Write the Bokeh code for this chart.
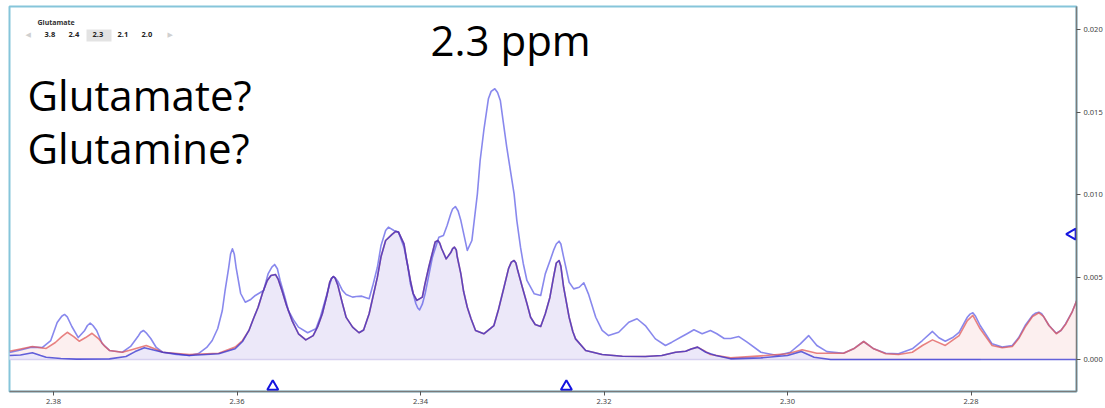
import numpy as np
from bokeh.plotting import figure
from bokeh.models import Range1d, FixedTicker, PrintfTickFormatter, Label, BoxAnnotation
from bokeh.embed import file_html
from bokeh.resources import INLINE

# ---- data ----
spectrum_ppm = [2.3848,2.3836,2.3824,2.3812,2.3803,2.3796,2.3791,2.3788,2.3785,2.3780,2.3773,2.3766,2.3763,2.3760,2.3757,2.3753,2.3747,2.3739,2.3725,2.3716,2.3708,2.3705,2.3702,2.3699,2.3694,2.3688,2.3681,2.3666,2.3652,2.3642,2.3633,2.3627,2.3621,2.3616,2.3613,2.3609,2.3607,2.3605,2.3603,2.3601,2.3596,2.3591,2.3585,2.3580,2.3571,2.3566,2.3562,2.3559,2.3556,2.3553,2.3548,2.3544,2.3538,2.3533,2.3523,2.3514,2.3509,2.3504,2.3499,2.3497,2.3495,2.3493,2.3490,2.3485,2.3481,2.3474,2.3470,2.3464,2.3456,2.3452,2.3447,2.3443,2.3438,2.3435,2.3429,2.3424,2.3418,2.3414,2.3411,2.3405,2.3403,2.3401,2.3398,2.3395,2.3391,2.3387,2.3380,2.3375,2.3371,2.3367,2.3365,2.3362,2.3359,2.3356,2.3349,2.3344,2.3338,2.3335,2.3331,2.3326,2.3323,2.3319,2.3316,2.3313,2.3310,2.3306,2.3302,2.3298,2.3295,2.3291,2.3288,2.3284,2.3276,2.3269,2.3264,2.3258,2.3255,2.3252,2.3249,2.3247,2.3244,2.3238,2.3233,2.3227,2.3222,2.3217,2.3209,2.3202,2.3195,2.3184,2.3173,2.3164,2.3155,2.3144,2.3133,2.3126,2.3115,2.3109,2.3102,2.3093,2.3084,2.3077,2.3069,2.3062,2.3053,2.3044,2.3029,2.3011,2.2997,2.2986,2.2977,2.2968,2.2957,2.2939,2.2928,2.2917,2.2906,2.2893,2.2879,2.2864,2.2853,2.2842,2.2835,2.2828,2.2820,2.2813,2.2804,2.2801,2.2798,2.2795,2.2790,2.2777,2.2766,2.2755,2.2748,2.2741,2.2733,2.2730,2.2726,2.2723,2.2721,2.2715,2.2707,2.2702,2.2697,2.2690,2.2684]
spectrum_int = [0.00042,0.00058,0.00075,0.00073,0.00115,0.00224,0.00262,0.00273,0.00258,0.00200,0.00133,0.00176,0.00206,0.00220,0.00206,0.00176,0.00097,0.00055,0.00044,0.00079,0.00139,0.00165,0.00176,0.00162,0.00127,0.00073,0.00044,0.00030,0.00024,0.00036,0.00073,0.00115,0.00188,0.00297,0.00418,0.00559,0.00640,0.00671,0.00640,0.00559,0.00400,0.00347,0.00364,0.00388,0.00418,0.00521,0.00560,0.00576,0.00550,0.00479,0.00382,0.00297,0.00236,0.00196,0.00162,0.00186,0.00261,0.00358,0.00455,0.00490,0.00503,0.00495,0.00473,0.00418,0.00394,0.00378,0.00382,0.00384,0.00368,0.00448,0.00559,0.00691,0.00782,0.00802,0.00782,0.00772,0.00681,0.00570,0.00459,0.00338,0.00312,0.00301,0.00335,0.00398,0.00509,0.00620,0.00741,0.00752,0.00812,0.00883,0.00912,0.00927,0.00900,0.00842,0.00661,0.00721,0.01004,0.01206,0.01388,0.01580,0.01625,0.01641,0.01618,0.01570,0.01448,0.01287,0.01145,0.01004,0.00842,0.00681,0.00582,0.00479,0.00398,0.00388,0.00519,0.00612,0.00661,0.00700,0.00717,0.00700,0.00620,0.00468,0.00428,0.00438,0.00465,0.00398,0.00256,0.00176,0.00145,0.00165,0.00226,0.00247,0.00206,0.00125,0.00085,0.00105,0.00139,0.00158,0.00180,0.00156,0.00176,0.00156,0.00127,0.00127,0.00139,0.00105,0.00044,0.00024,0.00044,0.00095,0.00145,0.00085,0.00048,0.00038,0.00065,0.00109,0.00065,0.00038,0.00035,0.00065,0.00115,0.00170,0.00132,0.00111,0.00133,0.00165,0.00256,0.00275,0.00283,0.00262,0.00206,0.00095,0.00075,0.00085,0.00133,0.00206,0.00267,0.00280,0.00287,0.00278,0.00261,0.00206,0.00159,0.00176,0.00216,0.00285,0.00368]

glutamate_ppm = [2.3848,2.3836,2.3823,2.3814,2.3808,2.3792,2.3775,2.3739,2.3721,2.3711,2.3701,2.3691,2.3681,2.3652,2.3620,2.3602,2.3594,2.3587,2.3582,2.3577,2.3572,2.3567,2.3563,2.3558,2.3555,2.3551,2.3546,2.3540,2.3533,2.3525,2.3517,2.3512,2.3507,2.3502,2.3499,2.3497,2.3495,2.3493,2.3490,2.3485,2.3481,2.3474,2.3467,2.3462,2.3456,2.3452,2.3447,2.3443,2.3438,2.3431,2.3427,2.3424,2.3418,2.3415,2.3411,2.3408,2.3404,2.3398,2.3395,2.3391,2.3387,2.3384,2.3381,2.3379,2.3377,2.3372,2.3367,2.3365,2.3363,2.3361,2.3360,2.3356,2.3353,2.3349,2.3345,2.3340,2.3331,2.3320,2.3315,2.3309,2.3304,2.3301,2.3298,2.3296,2.3294,2.3289,2.3284,2.3280,2.3275,2.3269,2.3264,2.3259,2.3255,2.3252,2.3249,2.3247,2.3244,2.3238,2.3234,2.3231,2.3220,2.3202,2.3180,2.3155,2.3137,2.3122,2.3111,2.3105,2.3098,2.3089,2.3078,2.3062,2.3029,2.3000,2.2985,2.2971,2.2953,2.2877,2.2684]
glutamate_int = [0.00024,0.00027,0.00041,0.00024,0.00014,0.00006,0.00002,0.00004,0.00018,0.00048,0.00071,0.00058,0.00044,0.00024,0.00035,0.00065,0.00109,0.00176,0.00248,0.00317,0.00406,0.00479,0.00509,0.00515,0.00485,0.00418,0.00327,0.00236,0.00156,0.00119,0.00145,0.00200,0.00277,0.00388,0.00467,0.00492,0.00503,0.00493,0.00448,0.00338,0.00255,0.00196,0.00162,0.00179,0.00277,0.00376,0.00499,0.00624,0.00721,0.00758,0.00776,0.00772,0.00701,0.00600,0.00479,0.00400,0.00358,0.00378,0.00461,0.00559,0.00648,0.00712,0.00721,0.00705,0.00673,0.00610,0.00648,0.00672,0.00681,0.00664,0.00624,0.00519,0.00412,0.00317,0.00248,0.00176,0.00156,0.00206,0.00303,0.00438,0.00552,0.00590,0.00600,0.00585,0.00539,0.00438,0.00339,0.00256,0.00212,0.00200,0.00277,0.00376,0.00499,0.00585,0.00600,0.00565,0.00438,0.00256,0.00170,0.00125,0.00055,0.00030,0.00020,0.00018,0.00024,0.00044,0.00050,0.00064,0.00075,0.00044,0.00024,0.00004,0.00010,0.00024,0.00048,0.00014,0.0,0.0,0.0]

# total model: differs from the glutamate fit only at both ends
model_left_ppm = [2.3848,2.3836,2.3823,2.3808,2.3798,2.3791,2.3785,2.3778,2.3772,2.3765,2.3758,2.3751,2.3744,2.3739,2.3725,2.3714,2.3699,2.3689,2.3681,2.3652,2.3620,2.3602,2.3594]
model_left_int = [0.00050,0.00064,0.00079,0.00067,0.00103,0.00139,0.00165,0.00139,0.00111,0.00133,0.00159,0.00127,0.00079,0.00055,0.00044,0.00061,0.00085,0.00064,0.00044,0.00030,0.00038,0.00075,0.00115]
model_right_ppm = [2.3089,2.3084,2.3062,2.3029,2.3000,2.2984,2.2968,2.2939,2.2928,2.2917,2.2906,2.2893,2.2879,2.2864,2.2853,2.2842,2.2828,2.2813,2.2804,2.2798,2.2790,2.2777,2.2766,2.2755,2.2748,2.2741,2.2733,2.2726,2.2721,2.2715,2.2707,2.2702,2.2697,2.2690,2.2684]
model_right_int = [0.00047,0.00030,0.00010,0.00022,0.00035,0.00059,0.00038,0.00038,0.00065,0.00109,0.00065,0.00035,0.00030,0.00044,0.00085,0.00119,0.00085,0.00145,0.00236,0.00267,0.00186,0.00085,0.00071,0.00079,0.00127,0.00196,0.00261,0.00283,0.00261,0.00206,0.00156,0.00176,0.00212,0.00285,0.00368]

x_ticks = [2.38, 2.36, 2.34, 2.32, 2.30, 2.28]
y_ticks = [0.000, 0.005, 0.010, 0.015, 0.020]
region_ppm = [2.3561, 2.3241]
scale_level = [0.0076]
buttons = ["3.8", "2.4", "2.3", "2.1", "2.0"]

# build the total-model series
mid = [(pp, v) for pp, v in zip(glutamate_ppm, glutamate_int) if 2.3098 <= pp <= 2.3587]
model_ppm = model_left_ppm + [pp for pp, _ in mid] + model_right_ppm
model_int = model_left_int + [v for _, v in mid] + model_right_int

# ---- layout helpers (annotation placement only) ----
def px2ppm(px):
    return 2.38 - (px - 53) / 9175.0

def py2val(py):
    return (359 - py) / 16500.0

p = figure(width=1105, height=408, output_backend="svg", toolbar_location=None,
           x_range=Range1d(px2ppm(9), px2ppm(1076)), y_range=Range1d(py2val(391), py2val(6)),
           y_axis_location="right", min_border_left=9, min_border_top=6,
           min_border_right=29, min_border_bottom=17)
p.grid.visible = False
p.background_fill_color = "white"
p.border_fill_color = "white"
p.outline_line_color = "#86c5da"
p.outline_line_width = 2

p.varea(x=model_ppm, y1=0, y2=model_int, fill_color="#fcefef", fill_alpha=1.0)
p.varea(x=glutamate_ppm, y1=0, y2=glutamate_int, fill_color="#ece8f9", fill_alpha=1.0)
p.line([px2ppm(9), px2ppm(980)], [0, 0], line_color="#d6d0f0", line_width=1.5)

p.line(spectrum_ppm, spectrum_int, line_color="#5a5ae6", line_alpha=0.72, line_width=1.6, line_join="round")
p.line(model_ppm, model_int, line_color="#e05a5a", line_alpha=0.75, line_width=1.6, line_join="round")
p.line(glutamate_ppm, glutamate_int, line_color="#3030d0", line_alpha=0.75, line_width=1.6, line_join="round")

# region markers
p.scatter(x=region_ppm, y=[py2val(386)] * len(region_ppm), marker="triangle", size=11,
          line_color="#1515e0", line_width=2, fill_color="white")
p.scatter(x=[px2ppm(1072)] * len(scale_level), y=scale_level, marker="triangle", size=11,
          angle=np.pi / 2, line_color="#1515e0", line_width=2, fill_color="white")

for ax in (p.xaxis[0], p.yaxis[0]):
    ax.axis_line_color = "#7a7a7a"
    ax.axis_line_width = 1.5
    ax.major_tick_line_color = "#555555"
    ax.major_tick_out = 4
    ax.major_tick_in = 0
    ax.minor_tick_line_color = None
    ax.major_label_text_font = "Noto Sans"
    ax.major_label_text_font_size = "7.5px"
    ax.major_label_text_color = "#444444"
    ax.major_label_standoff = 3
p.xaxis[0].ticker = FixedTicker(ticks=x_ticks)
p.xaxis[0].formatter = PrintfTickFormatter(format="%.2f")
p.yaxis[0].ticker = FixedTicker(ticks=y_ticks)
p.yaxis[0].formatter = PrintfTickFormatter(format="%.3f")

# big texts
big = dict(text_font="Open Sans", text_font_size="42px", text_color="black", text_baseline="alphabetic")
p.add_layout(Label(x=px2ppm(430), y=py2val(39), text="2.3 ppm", **big))
p.add_layout(Label(x=px2ppm(27), y=py2val(94), text="Glutamate?", **big))
p.add_layout(Label(x=px2ppm(27), y=py2val(147), text="Glutamine?", **big))

# small selector widget
p.add_layout(BoxAnnotation(left=px2ppm(86), right=px2ppm(111), top=py2val(29), bottom=py2val(41),
                           fill_color="#e3e3e3", fill_alpha=1.0, line_color=None))
p.add_layout(Label(x=px2ppm(37), y=py2val(22), text="Glutamate", text_font="Noto Sans",
                   text_font_size="7px", text_font_style="bold", text_color="#333333",
                   text_baseline="alphabetic"))
btn_px = [44, 68, 92, 117, 141]
for bx, t in zip(btn_px, buttons):
    p.add_layout(Label(x=px2ppm(bx), y=py2val(34), text=t, text_font="Noto Sans",
                       text_font_size="7.5px", text_font_style="bold", text_color="#222222",
                       text_baseline="alphabetic"))
for bx, t in ((25, "◀"), (167, "▶")):
    p.add_layout(Label(x=px2ppm(bx), y=py2val(34), text=t, text_font="DejaVu Sans",
                       text_font_size="7px", text_color="#d0d0d0", text_baseline="alphabetic"))

open("out.html", "w").write(file_html(p, INLINE))
